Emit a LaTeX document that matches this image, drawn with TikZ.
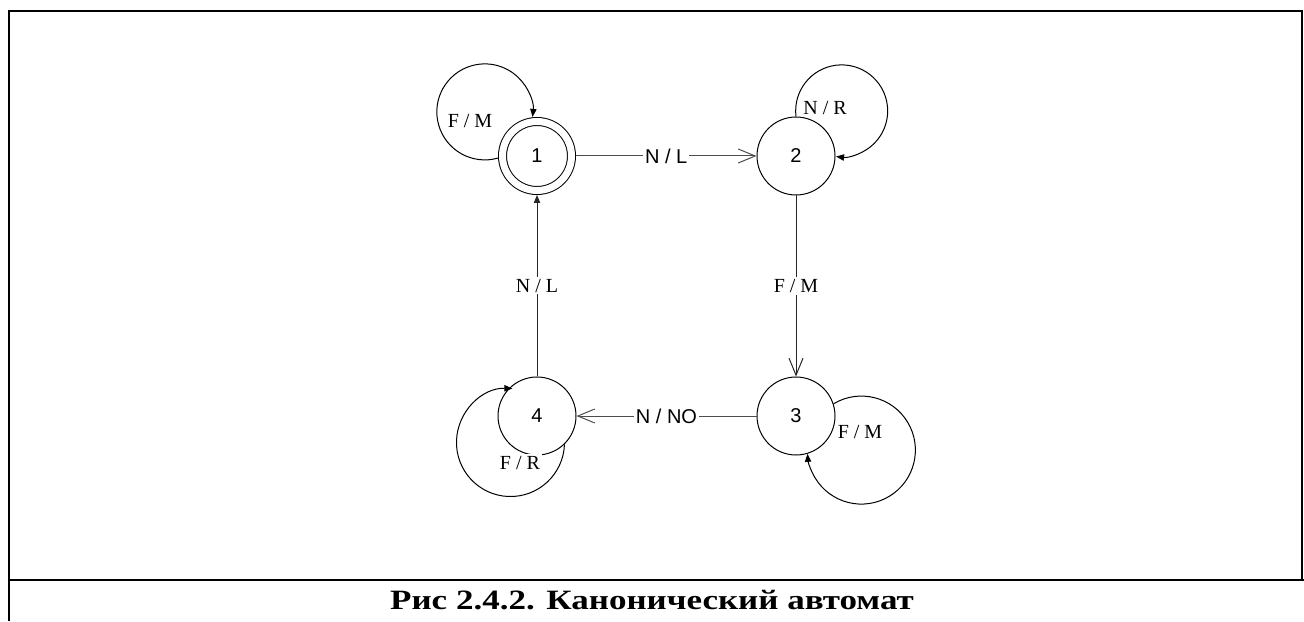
\documentclass[tikz,border=0pt]{standalone}
\usepackage{fontspec}
\setmainfont{Liberation Serif}
\newfontfamily\arialfont{Liberation Sans}
\usetikzlibrary{arrows.meta}

\tikzset{
  state/.style={circle,draw,line width=0.5pt,minimum size=39pt,inner sep=0pt,
    font=\arialfont\fontsize{10}{10}\selectfont},
  accepting/.style={double,double distance=3.5pt,minimum size=34.5pt,outer sep=2.25pt},
  trans/.style={draw=black!70,line width=0.5pt,-{Straight Barb[length=8.5pt,width=7pt]}},
  loopline/.style={line width=0.5pt,-{Triangle[length=4pt,width=3.2pt]}},
  lbl/.style={fill=white,inner sep=1pt,font=\fontsize{10}{10}\selectfont},
  albl/.style={fill=white,inner sep=1pt,font=\arialfont\fontsize{10}{10}\selectfont}
}

\begin{document}
\begin{tikzpicture}[x=0.5pt,y=0.5pt]
  \useasboundingbox (0,0) rectangle (1304,621);
  % frame and caption row
  \draw[line width=1pt] (8.5,0) -- (8.5,609.5) -- (1302,609.5) -- (1302,41);
  \draw[line width=1pt] (8.5,41) -- (1304,41);
  \node[xscale=1.25,font=\bfseries\fontsize{14}{15}\selectfont] (cap) at (652,21) {Рис 2.4.2. Канонический автомат};

  \node[state,accepting] (n1) at (537,465) {1};
  \node[state] (n2) at (796,465) {2};
  \node[state] (n3) at (796,205) {3};
  \node[state] (n4) at (537,205) {4};

  \draw[trans] (n1) -- node[albl] {N / L} (n2);
  \draw[trans,draw=black!85] (n2) -- node[lbl] {F / M} (n3);
  \draw[trans] (n3) -- node[albl] {N / NO} (n4);
  \draw[line width=0.5pt,draw=black!85,-{Triangle[length=4pt,width=3.2pt]}] (n4) -- node[lbl] {N / L} (n1);

  \draw[loopline] (n1.183) arc[start angle=-74,end angle=-366,radius=48];
  \draw[loopline] (n2.north) arc[start angle=187,end angle=-97,radius=46];
  \draw[loopline] (n3.18) arc[start angle=121,end angle=-176,radius=54];
  \draw[loopline] (n4.-46) arc[start angle=-2,end angle=-272,radius=54];

  \node[lbl] (l1) at (470,500) {F / M};
  \node[lbl] (l2) at (825,513) {N / R};
  \node[lbl] (l3) at (860,189) {F / M};
  \node[lbl] (l4) at (520,158) {F / R};
\end{tikzpicture}
\end{document}
